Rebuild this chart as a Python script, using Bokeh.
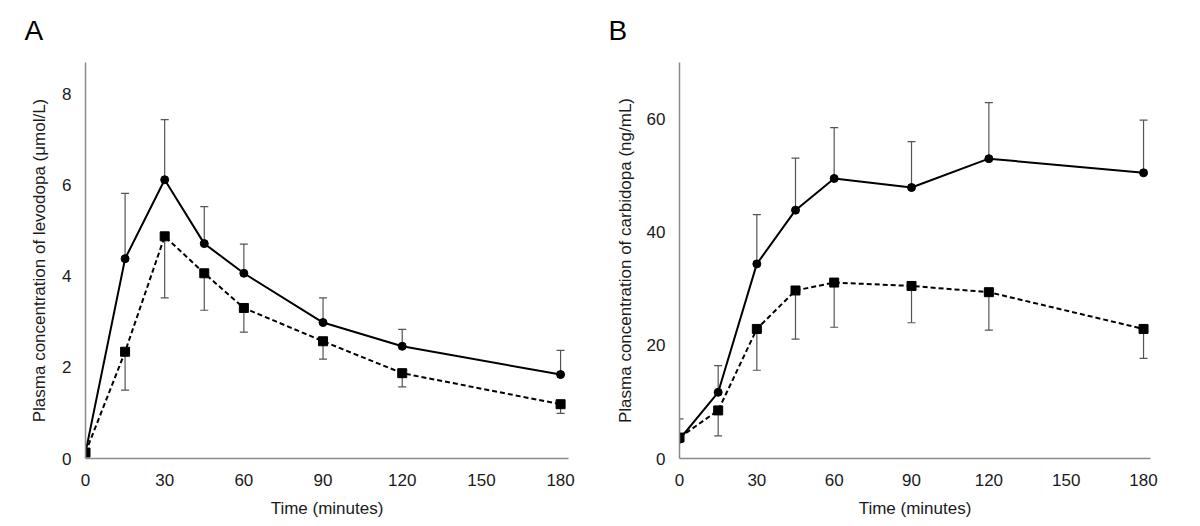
from bokeh.plotting import figure
from bokeh.layouts import row
from bokeh.models import Range1d, Whisker, TeeHead, ColumnDataSource, FixedTicker
from bokeh.embed import file_html
from bokeh.resources import INLINE

# ---- data ----
time_min = [0, 15, 30, 45, 60, 90, 120, 180]

# Panel A: levodopa (umol/L)
levo_circle = [0.13, 4.38, 6.11, 4.71, 4.06, 2.98, 2.46, 1.84]
levo_circle_upper = [0.13, 5.81, 7.43, 5.52, 4.70, 3.52, 2.83, 2.37]
levo_square = [0.13, 2.34, 4.87, 4.06, 3.30, 2.57, 1.87, 1.19]
levo_square_lower = [0.13, 1.50, 3.52, 3.25, 2.77, 2.18, 1.57, 0.99]

# Panel B: carbidopa (ng/mL)
carb_circle = [3.4, 11.7, 34.4, 43.9, 49.5, 47.9, 53.0, 50.5]
carb_circle_upper = [7.0, 16.4, 43.1, 53.1, 58.5, 56.0, 62.9, 59.8]
carb_square = [3.7, 8.5, 22.9, 29.7, 31.1, 30.5, 29.4, 22.9]
carb_square_lower = [3.7, 4.0, 15.6, 21.1, 23.2, 24.0, 22.7, 17.7]

x_ticks = [0, 30, 60, 90, 120, 150, 180]
levo_ticks = [0, 2, 4, 6, 8]
carb_ticks = [0, 20, 40, 60]

FONT = "Liberation Sans"
AXIS_GRAY = "#8a8a8a"
ERR_GRAY = "#555555"
FRAME_H = 396


def make_panel(letter, circ, circ_up, sq, sq_lo, y_max, y_ticks, ylabel,
               x_max, frame_w, border_left, border_right, letter_offset, ylab_standoff):
    p = figure(output_backend="svg", toolbar_location=None,
               frame_width=frame_w, frame_height=FRAME_H,
               min_border_left=border_left, min_border_right=border_right,
               min_border_top=62, min_border_bottom=60,
               x_range=Range1d(0, x_max), y_range=Range1d(0, y_max),
               background_fill_color="white", border_fill_color="white")
    p.outline_line_color = None
    p.xgrid.visible = False
    p.ygrid.visible = False

    # panel letter
    p.title.text = letter
    p.title.align = "left"
    p.title.vertical_align = "top"
    p.title.offset = letter_offset
    p.title.standoff = 29
    p.title.text_font = FONT
    p.title.text_font_size = "28px"
    p.title.text_font_style = "normal"
    p.title.text_color = "black"

    for ax in (p.xaxis[0], p.yaxis[0]):
        ax.axis_line_color = AXIS_GRAY
        ax.axis_line_width = 1.5
        ax.major_tick_line_color = None
        ax.minor_tick_line_color = None
        ax.major_tick_out = 0
        ax.major_tick_in = 0
        ax.major_label_text_font = FONT
        ax.major_label_text_font_size = "17px"
        ax.major_label_text_color = "#1a1a1a"
        ax.axis_label_text_font = FONT
        ax.axis_label_text_font_size = "17px"
        ax.axis_label_text_font_style = "normal"
        ax.axis_label_text_color = "#1a1a1a"

    p.xaxis.ticker = FixedTicker(ticks=x_ticks)
    p.yaxis.ticker = FixedTicker(ticks=y_ticks)
    p.xaxis.axis_label = "Time (minutes)"
    p.yaxis.axis_label = ylabel
    p.xaxis.major_label_standoff = 15
    p.xaxis.axis_label_standoff = 10
    p.yaxis.major_label_standoff = 14
    p.yaxis.axis_label_standoff = ylab_standoff

    src_c = ColumnDataSource(dict(t=time_min, y=circ, up=circ_up))
    src_s = ColumnDataSource(dict(t=time_min, y=sq, lo=sq_lo))

    wc = Whisker(source=src_c, base="t", lower="y", upper="up",
                 line_color=ERR_GRAY, line_width=1.2,
                 upper_head=TeeHead(size=8, line_color=ERR_GRAY, line_width=1.2),
                 lower_head=None)
    ws = Whisker(source=src_s, base="t", lower="lo", upper="y",
                 line_color=ERR_GRAY, line_width=1.2,
                 lower_head=TeeHead(size=8, line_color=ERR_GRAY, line_width=1.2),
                 upper_head=None)
    p.add_layout(wc)
    p.add_layout(ws)

    p.line("t", "y", source=src_s, line_color="black", line_width=2,
           line_dash="5 3")
    p.line("t", "y", source=src_c, line_color="black", line_width=2)
    p.scatter("t", "y", source=src_s, marker="square", size=9,
              fill_color="black", line_color="black")
    p.scatter("t", "y", source=src_c, marker="circle", size=8,
              fill_color="black", line_color="black")
    return p


pa = make_panel("A", levo_circle, levo_circle_upper, levo_square, levo_square_lower,
                8.68, levo_ticks, "Plasma concentration of levodopa (μmol/L)",
                183.0, 483, 85, 30, -61, 10)
pb = make_panel("B", carb_circle, carb_circle_upper, carb_square, carb_square_lower,
                70.0, carb_ticks, "Plasma concentration of carbidopa (ng/mL)",
                182.7, 471, 81, 40, -71, 9)

layout = row(pa, pb)
open("out.html", "w").write(file_html(layout, INLINE))
